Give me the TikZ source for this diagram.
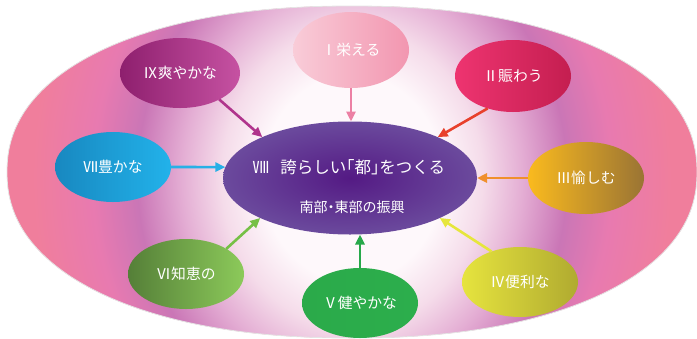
\documentclass[tikz,border=0pt]{standalone}
\usepackage{fontspec}
\newfontfamily\jp{Noto Sans CJK JP}
\newfontfamily\jph[RawFeature=+halt]{Noto Sans CJK JP}
\usetikzlibrary{shapes.geometric,arrows.meta}
\definecolor{bgA}{HTML}{FEF8FB}
\definecolor{bgB}{HTML}{F5DCEA}
\definecolor{bgC}{HTML}{E4AED4}
\definecolor{bgD}{HTML}{CA76B6}
\definecolor{bgE}{HTML}{E87AB0}
\definecolor{bgF}{HTML}{F07E9C}
\pgfdeclareradialshading{bgshade}{\pgfpoint{0bp}{0bp}}{color(0bp)=(bgA); color(6.6bp)=(bgA); color(9.6bp)=(bgB); color(12.5bp)=(bgC); color(15.8bp)=(bgD); color(19.1bp)=(bgE); color(23.5bp)=(bgF); color(25bp)=(bgF); color(50bp)=(bgF)}
\definecolor{cA}{HTML}{541A84}
\definecolor{cB}{HTML}{6B4A9D}
\definecolor{aIX}{HTML}{B0348C}
\definecolor{aI}{HTML}{EC80A4}
\definecolor{aII}{HTML}{E8402C}
\definecolor{aVII}{HTML}{28B0E6}
\definecolor{aIII}{HTML}{F0902C}
\definecolor{aVI}{HTML}{76C046}
\definecolor{aV}{HTML}{27A84A}
\definecolor{aIV}{HTML}{E6E63C}
\begin{document}
\begin{tikzpicture}[x=1pt,y=-1pt,
  sat/.style={ellipse, inner sep=0pt, outer sep=0pt, minimum width=116pt, minimum height=70pt,
    text=white, font=\jp\fontsize{14.8}{16}\selectfont},
  arr/.style={line width=2.6pt, -{Triangle[length=10pt,width=9pt]}},
  ctitle/.style={text=white, inner sep=0pt, font=\jp\fontsize{16.5}{18}\selectfont},
  csub/.style={text=white, inner sep=0pt, font=\jp\fontsize{14}{16}\selectfont}]
\useasboundingbox (0,0) rectangle (697,338);
% big background shape
\fill[bgF] plot[domain=0:360, samples=241, smooth] ({352+345*cos(\x)*(abs(cos(\x))+0.0001)^(-0.0909)}, {172+166*sin(\x)*(abs(sin(\x))+0.0001)^(-0.0909)}) -- cycle;
\begin{scope}
\clip plot[domain=0:360, samples=241, smooth] ({352+345*cos(\x)*(abs(cos(\x))+0.0001)^(-0.0909)}, {172+166*sin(\x)*(abs(sin(\x))+0.0001)^(-0.0909)}) -- cycle;
\shade[shading=bgshade] (12,-212) rectangle (692,568);
\end{scope}
\draw[black!10, line width=0.8pt] plot[domain=0:360, samples=241, smooth] ({352+345*cos(\x)*(abs(cos(\x))+0.0001)^(-0.0909)}, {172+166*sin(\x)*(abs(sin(\x))+0.0001)^(-0.0909)}) -- cycle;
% centre
\node[ellipse, inner sep=0pt, outer sep=0pt, minimum width=254pt, minimum height=113pt, inner color=cA, outer color=cB] (c) at (350,178) {};
\node[ctitle] (ct) at (349,167) {Ⅷ\hspace{11pt}誇らしい{\jph「}都{\jph」}をつくる};
\node[csub] (cs) at (352,207) {南部{\jph ・}東部の振興};
% satellites
\node[sat, minimum height=76pt, left color={rgb,255:red,249;green,204;blue,216}, right color={rgb,255:red,242;green,150;blue,176}] (n1) at (351,50) {Ⅰ栄える};
\node[sat, minimum width=120pt, left color={rgb,255:red,142;green,31;blue,110}, middle color={rgb,255:red,176;green,44;blue,138}, right color={rgb,255:red,198;green,82;blue,162}] (n9) at (180,73) {Ⅸ爽やかな};
\node[sat, minimum height=72pt, left color={rgb,255:red,238;green,52;blue,112}, middle color={rgb,255:red,232;green,48;blue,106}, right color={rgb,255:red,196;green,30;blue,80}] (n2) at (513,76) {Ⅱ賑わう};
\node[sat, left color={rgb,255:red,24;green,136;blue,192}, right color={rgb,255:red,34;green,178;blue,234}] (n7) at (113,167) {Ⅶ豊かな};
\node[sat, minimum height=72pt, left color={rgb,255:red,250;green,186;blue,30}, middle color={rgb,255:red,232;green,168;blue,40}, right color={rgb,255:red,154;green,116;blue,52}] (n3) at (586,178) {Ⅲ愉しむ};
\node[sat, left color={rgb,255:red,85;green,127;blue,56}, middle color={rgb,255:red,120;green,176;blue,72}, right color={rgb,255:red,140;green,202;blue,90}] (n6) at (186,274) {Ⅵ知恵の};
\node[sat, left color={rgb,255:red,43;green,170;blue,74}, middle color={rgb,255:red,34;green,144;blue,62}, right color={rgb,255:red,44;green,174;blue,76}] (n5) at (360,303) {Ⅴ健やかな};
\node[sat, left color={rgb,255:red,230;green,228;blue,62}, middle color={rgb,255:red,228;green,224;blue,64}, right color={rgb,255:red,176;green,170;blue,48}] (n4) at (520,282) {Ⅳ便利な};
% arrows
\draw[arr, aIX] (n9.-34) -- (c.155);
\draw[arr, aI] (n1.south) -- (n1.south |- c.north);
\draw[arr, aII] (n2.-128) -- (c.25);
\draw[arr, aVII] (n7.east) -- (c.175);
\draw[arr, aIII] (n3.west) -- (c.east);
\draw[arr, aVI] (n6.32) -- (c.-156);
\draw[arr, aV] (n5.north) -- (n5.north |- c.south);
\draw[arr, aIV] (n4.133) -- (c.-24);
\end{tikzpicture}
\end{document}
